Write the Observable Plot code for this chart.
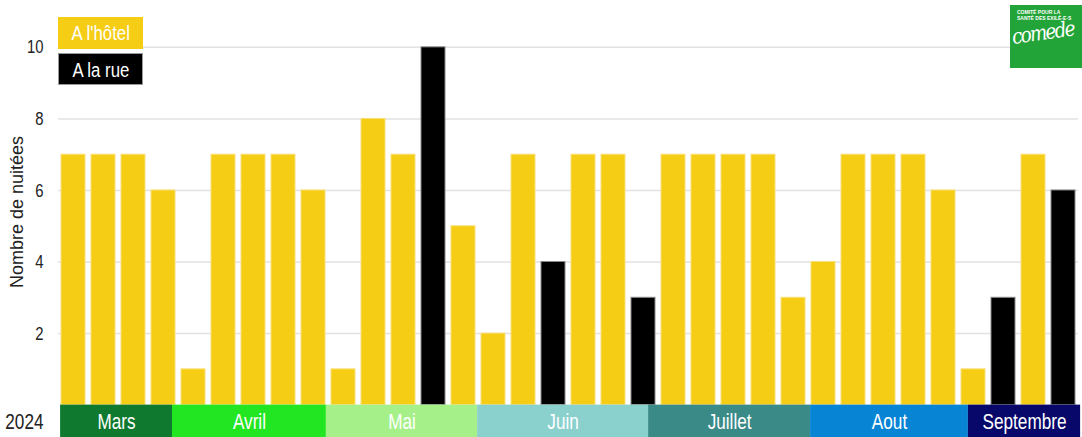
<!DOCTYPE html>
<html>
<head>
<meta charset="utf-8">
<script src="https://cdn.jsdelivr.net/npm/d3@7"></script>
<script src="https://cdn.jsdelivr.net/npm/@observablehq/plot@0.6"></script>
<style>
  body { margin: 0; background: #fff; }
  #wrap { position: relative; width: 1082px; height: 437px; overflow: hidden;
          font-family: "Liberation Sans", Arial, sans-serif; }
  .leg { position: absolute; left: 58px; width: 85px; height: 32px; color: #fff;
         font-size: 20px; text-align: center; line-height: 32px; box-sizing: border-box; }
  .leg span { display: inline-block; transform: scaleX(0.84); }
  #logo { position: absolute; left: 1010px; top: 5px; width: 72px; height: 63px; background: #22a438; color: #fff; overflow: hidden; }
  #logo .small { position: absolute; left: 7px; top: 4px; font-weight: bold; font-size: 5px; line-height: 6px; white-space: nowrap; }
  #logo .big { position: absolute; left: 2px; top: 20px; font-family: "DejaVu Serif", serif; font-style: italic; font-size: 21px; letter-spacing: -2px; transform: rotate(-8deg) scaleX(0.88); transform-origin: left center; }
</style>
</head>
<body>
<div id="wrap">
  <div id="chart"></div>
  <div class="leg" style="top:17px;background:#f5cd15;"><span>A l'hôtel</span></div>
  <div class="leg" style="top:53px;background:#000;border:1px solid #999;"><span>A la rue</span></div>
  <div id="logo"><div class="small">COMITÉ POUR LA<br>SANTÉ DES EXILÉ·E·S</div><div class="big">comede</div></div>
</div>
<script>
// Values per bar (nights), in order
const values = [7,7,7,6,1,7,7,7,6,1,8,7,10,5,2,7,4,7,7,3,7,7,7,7,3,4,7,7,7,6,1,3,7,6];
const lieux  = ["A l'hôtel","A l'hôtel","A l'hôtel","A l'hôtel","A l'hôtel","A l'hôtel","A l'hôtel","A l'hôtel","A l'hôtel","A l'hôtel",
                "A l'hôtel","A l'hôtel","A la rue","A l'hôtel","A l'hôtel","A l'hôtel","A la rue","A l'hôtel","A l'hôtel","A la rue",
                "A l'hôtel","A l'hôtel","A l'hôtel","A l'hôtel","A l'hôtel","A l'hôtel","A l'hôtel","A l'hôtel","A l'hôtel","A l'hôtel",
                "A l'hôtel","A la rue","A l'hôtel","A la rue"];
const categories = ["A l'hôtel", "A la rue"];
const months = ["Mars","Avril","Mai","Juin","Juillet","Aout","Septembre"];
const monthStart = [0.07, 3.8, 8.93, 13.97, 19.67, 25.07, 30.33];
const monthEnd   = [3.8, 8.93, 13.97, 19.67, 25.07, 30.33, 34.07];
const year = "2024";
const yTicks = [2, 4, 6, 8, 10];
const yLabel = "Nombre de nuitées";

const monthColors = ["#0f7a2f", "#22e622", "#a6f08a", "#8ad0cd", "#3a8a88", "#0784d4", "#07086a"];
const yMin = -0.905, yMax = 11.31;

const bars = values.map((v, i) => ({i, v, lieu: lieux[i]}));
const monthData = months.map((m, k) => ({month: m, start: monthStart[k], end: monthEnd[k], color: monthColors[k]}));

const chart = Plot.plot({
  width: 1082, height: 437,
  marginLeft: 58, marginRight: 4, marginTop: 0, marginBottom: 0,
  style: {fontFamily: '"Liberation Sans", Arial, sans-serif', background: "#fff"},
  x: {domain: [0, values.length], axis: null},
  y: {domain: [yMin, yMax], axis: null},
  color: {domain: categories, range: ["#f5cd15", "#000000"]},
  marks: [
    Plot.gridY(yTicks, {stroke: "#e2e2e2", strokeOpacity: 1, strokeWidth: 1.5}),
    Plot.axisY(yTicks, {tickSize: 0, tickPadding: 15, fontSize: 19, fill: "#222", label: null, className: "narrow"}),
    Plot.text([yLabel], {y: 5.4, frameAnchor: "left", textAnchor: "middle", dx: -41, rotate: -90, fontSize: 18, fill: "#222"}),
    Plot.rectY(bars, {x1: "i", x2: d => d.i + 1, y: "v", fill: "lieu", insetLeft: 3, insetRight: 3,
      stroke: d => d.lieu === categories[0] ? "#fae07a" : "#888888", strokeWidth: 1}),
    Plot.rect(monthData, {x1: "start", x2: "end", y1: yMin, y2: 0, fill: "color"}),
    Plot.text(monthData, {x: d => (d.start + d.end) / 2, y: -0.46, text: "month", fill: "#fff", fontSize: 22, className: "narrow"}),
    Plot.text([year], {y: -0.46, frameAnchor: "left", textAnchor: "end", dx: -15, fontSize: 22, fill: "#222", className: "narrow"})
  ]
});
document.getElementById("chart").appendChild(chart);

// condense horizontal texts (narrow typeface look)
chart.querySelectorAll("g.narrow text").forEach(t => {
  const len = t.getComputedTextLength();
  t.setAttribute("textLength", (len * 0.78).toFixed(1));
  t.setAttribute("lengthAdjust", "spacingAndGlyphs");
});
</script>
</body>
</html>
